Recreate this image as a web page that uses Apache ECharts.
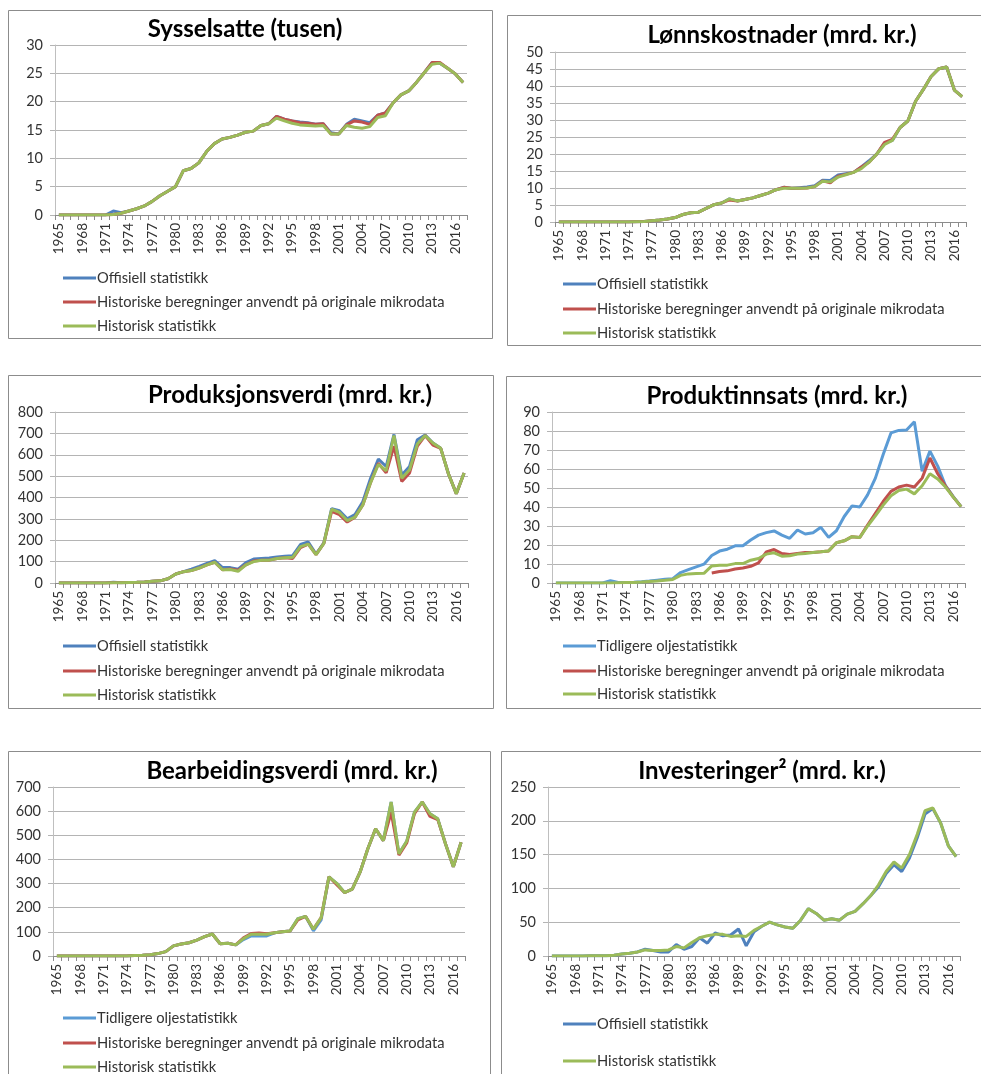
<!DOCTYPE html>
<html>
<head>
<meta charset="utf-8">
<script src="https://cdn.jsdelivr.net/npm/echarts@6/dist/echarts.min.js"></script>
<style>
  html, body { margin: 0; padding: 0; background: #fff; }
  #main { width: 981px; height: 1074px; }
</style>
</head>
<body>
<div id="main"></div>
<script>
// årstall 1965-2017
const years = ['1965','1966','1967','1968','1969','1970','1971','1972','1973','1974',
  '1975','1976','1977','1978','1979','1980','1981','1982','1983','1984',
  '1985','1986','1987','1988','1989','1990','1991','1992','1993','1994',
  '1995','1996','1997','1998','1999','2000','2001','2002','2003','2004',
  '2005','2006','2007','2008','2009','2010','2011','2012','2013','2014',
  '2015','2016','2017'];

// Sysselsatte (tusen)
const sysOffisiell = [0,0,0,0,0,0,0,0.7,0.4,0.7,1.1,1.6,2.4,3.4,4.2,5.0,7.8,8.2,9.2,11.2,
  12.6,13.4,13.7,14.1,14.6,14.8,15.8,16.1,17.4,16.9,16.6,16.4,16.3,16.0,16.1,14.5,14.3,16.0,16.9,16.6,
  16.3,17.6,18.0,19.8,21.2,21.9,23.4,25.1,26.9,26.8,25.9,24.9,23.4];
const sysBeregnet = [0,0,0,0,0,0,0,0.1,0.3,0.7,1.1,1.6,2.4,3.4,4.2,5.0,7.8,8.2,9.2,11.2,
  12.6,13.4,13.7,14.1,14.6,14.8,15.8,16.1,17.4,16.9,16.6,16.3,16.2,16.0,16.1,14.3,14.3,15.9,16.6,16.4,
  16.0,17.6,18.0,19.8,21.2,21.9,23.4,25.1,26.9,26.9,25.9,24.9,23.4];
const sysHistorisk = [0,0,0,0,0,0,0,0.1,0.3,0.7,1.1,1.6,2.4,3.4,4.2,5.0,7.8,8.2,9.2,11.2,
  12.6,13.4,13.7,14.1,14.6,14.8,15.8,16.1,17.1,16.6,16.2,15.9,15.8,15.7,15.8,14.3,14.3,15.8,15.5,15.3,
  15.6,17.2,17.5,19.8,21.2,21.9,23.4,25.1,26.6,26.8,25.9,24.9,23.4];

// Lønnskostnader (mrd. kr.)
const lonnOffisiell = [0,0,0,0,0,0,0,0,0,0,0.1,0.15,0.4,0.6,0.9,1.3,2.2,2.7,2.9,4.0,
  5.1,5.6,6.8,6.2,6.6,7.1,7.8,8.5,9.5,10.2,9.9,10.1,10.3,10.7,12.3,12.2,13.8,14.2,14.6,16.2,
  18.0,20.0,23.2,24.0,27.8,29.7,35.5,39.0,42.8,45.1,45.6,38.8,36.9];
const lonnBeregnet = [0,0,0,0,0,0,0,0,0,0,0.1,0.15,0.4,0.6,0.9,1.3,2.2,2.7,2.9,4.0,
  5.1,5.6,6.5,6.2,6.6,7.1,7.8,8.5,9.5,10.2,9.9,9.9,10.0,10.4,12.1,11.5,13.5,14.0,14.6,16.2,
  17.6,20.0,23.4,24.3,27.8,29.7,35.5,39.0,42.8,45.1,45.6,38.8,36.9];
const lonnHistorisk = [0,0,0,0,0,0,0,0,0,0,0.1,0.15,0.4,0.6,0.9,1.3,2.2,2.7,2.9,4.0,
  5.1,5.6,6.8,6.2,6.6,7.1,7.8,8.5,9.5,9.9,9.9,9.9,10.0,10.4,12.0,11.8,13.2,13.9,14.6,15.7,
  17.6,20.0,22.8,24.0,27.8,29.7,35.5,39.0,42.8,45.1,45.6,38.8,36.9];

// Produksjonsverdi (mrd. kr.)
const prodOffisiell = [0,0,0,0,0,0,0,3,1,2,3,5,8,10,20,42,53,65,78,92,
  105,72,72,65,95,112,115,117,122,125,128,180,192,135,188,348,338,300,320,380,
  490,580,545,695,505,545,670,692,655,630,510,418,515];
const prodBeregnet = [0,0,0,0,0,0,0,1,1,2,3,5,8,10,20,42,53,58,70,85,
  97,62,65,60,85,103,106,107,115,118,115,165,182,133,185,335,320,285,308,365,
  470,560,515,640,475,515,640,690,645,630,510,418,515];
const prodHistorisk = [0,0,0,0,0,0,0,1,1,2,3,5,8,10,20,42,53,58,70,85,
  97,62,63,55,85,100,106,107,115,118,120,170,182,133,185,345,330,292,308,365,
  470,555,525,690,490,530,650,690,655,630,510,418,515];

// Produktinnsats (mrd. kr.)
const innsTidligere = [0,0,0,0,0,0,0,1.2,0.3,0.3,0.4,0.6,1.0,1.5,2.0,2.3,5.5,7.0,8.5,9.9,
  14.5,16.8,17.8,19.6,19.6,22.6,25.2,26.5,27.4,25.2,23.5,27.9,25.8,26.5,29.3,24.0,27.5,35.0,40.6,40.0,
  46.4,55.2,67.6,79.0,80.3,80.5,84.9,58.8,69.4,61.5,51.2,45.5,40.2];
const innsBeregnet = [null,null,null,null,null,null,null,null,null,null,null,null,null,null,null,null,null,null,null,null,
  5.3,6.0,6.4,7.4,7.9,8.8,10.6,16.4,17.6,15.5,15.0,15.5,16.0,16.0,16.4,16.9,21.2,22.2,24.4,24.0,
  30.5,36.7,42.9,48.2,50.5,51.5,50.5,55.2,65.8,57.5,51.0,45.2,40.2];
const innsHistorisk = [0,0,0,0,0,0,0,0,0.1,0.2,0.3,0.5,0.8,1.0,1.4,1.9,4.0,4.8,5.0,5.1,
  9.0,9.4,9.4,10.2,10.2,12.0,12.9,15.2,15.9,14.1,14.3,15.2,15.5,16.0,16.4,16.9,21.2,22.2,24.4,24.0,
  30.0,35.3,41.0,45.9,48.7,49.4,46.9,51.2,57.5,54.7,50.5,45.2,40.2];

// Bearbeidingsverdi (mrd. kr.)
const bearbTidligere = [0,0,0,0,0,0,0,0,0,0.5,2,3,5,10,18,42,50,55,66,80,
  91,51,53,46,68,83,83,83,96,100,104,155,164,104,150,328,301,263,277,347,
  444,527,478,638,423,475,596,638,589,568,464,370,471];
const bearbBeregnet = [0,0,0,0,0,0,0,0,0,0.5,2,3,5,10,18,42,50,55,66,80,
  91,51,53,46,75,93,95,92,96,100,104,150,164,111,159,328,295,263,277,347,
  444,527,478,595,418,468,590,638,578,565,464,370,471];
const bearbHistorisk = [0,0,0,0,0,0,0,0,0,0.5,2,3,5,10,18,42,50,55,66,80,
  91,51,53,46,72,90,90,90,96,100,104,155,164,111,159,328,301,263,277,347,
  444,527,478,638,423,475,596,638,589,568,464,370,471];

// Investeringer (mrd. kr.)
const invOffisiell = [0,0,0,0,0,0.5,0.5,0.5,1,3,4,6,10,8,6,6,17,10,14,27,
  19,34,30,31,40,15,36,44,50,46,43,41,53,70,63,53,55,53,62,66,
  77,89,102,122,135,125,145,175,210,218,197,163,147];
const invHistorisk = [0,0,0,0,0,0.5,0.5,0.5,1,3,4,6,9,8,8,9,14,12,20,27,
  30,32,32,29,30,29,38,44,50,46,43,41,53,70,63,53,55,53,62,66,
  77,89,105,125,139,130,150,180,215,219,197,163,147];

const BLUE = '#4f81bd', LBLUE = '#5b9bd5', RED = '#c0504d', GREEN = '#9bbb59';
const FONT = 'Lato, "Liberation Sans", sans-serif';
const OFF = 'Offisiell statistikk';
const TID = 'Tidligere oljestatistikk';
const BER = 'Historiske beregninger anvendt på originale mikrodata';
const HIS = 'Historisk statistikk';

const panels = [
  { title: 'Sysselsatte (tusen)', box: [8, 10, 484, 328], titleAt: [245, 29],
    grid: { left: 55, top: 45, width: 412, height: 170 }, max: 30, interval: 5,
    legendX: 63, legendY: [278, 302, 326],
    lines: [[OFF, sysOffisiell, BLUE], [BER, sysBeregnet, RED], [HIS, sysHistorisk, GREEN]] },
  { title: 'Lønnskostnader (mrd. kr.)', box: [507, 15, 490, 330], titleAt: [782, 35],
    grid: { left: 555, top: 52, width: 411, height: 170 }, max: 50, interval: 5,
    legendX: 563, legendY: [284, 309, 333],
    lines: [[OFF, lonnOffisiell, BLUE], [BER, lonnBeregnet, RED], [HIS, lonnHistorisk, GREEN]] },
  { title: 'Produksjonsverdi (mrd. kr.)', box: [8, 375, 485, 333], titleAt: [290, 395],
    grid: { left: 55, top: 412, width: 413, height: 171 }, max: 800, interval: 100,
    legendX: 63, legendY: [646, 671, 695],
    lines: [[OFF, prodOffisiell, BLUE], [BER, prodBeregnet, RED], [HIS, prodHistorisk, GREEN]] },
  { title: 'Produktinnsats (mrd. kr.)', box: [506, 376, 490, 332], titleAt: [777, 396],
    grid: { left: 552, top: 412, width: 413, height: 171 }, max: 90, interval: 10,
    legendX: 563, legendY: [646, 671, 694],
    lines: [[TID, innsTidligere, LBLUE], [BER, innsBeregnet, RED], [HIS, innsHistorisk, GREEN]] },
  { title: 'Bearbeidingsverdi (mrd. kr.)', box: [8, 751, 482, 340], titleAt: [292, 771],
    grid: { left: 53, top: 787, width: 412, height: 169 }, max: 700, interval: 100,
    legendX: 63, legendY: [1018, 1043, 1067],
    lines: [[TID, bearbTidligere, LBLUE], [BER, bearbBeregnet, RED], [HIS, bearbHistorisk, GREEN]] },
  { title: 'Investeringer² (mrd. kr.)', box: [501, 751, 495, 340], titleAt: [762, 771],
    grid: { left: 548, top: 787, width: 412, height: 169 }, max: 250, interval: 50,
    legendX: 563, legendY: [1024, 1061],
    lines: [[OFF, invOffisiell, BLUE], [HIS, invHistorisk, GREEN]] }
];

const chart = echarts.init(document.getElementById('main'));

const grid = [], xAxis = [], yAxis = [], series = [], graphic = [];
panels.forEach((p, i) => {
  grid.push(p.grid);
  xAxis.push({
    type: 'category', gridIndex: i, data: years, boundaryGap: true,
    axisLine: { lineStyle: { color: '#8c8c8c', width: 1 } },
    axisTick: { show: true, interval: 0, length: 5, lineStyle: { color: '#8c8c8c' } },
    axisLabel: { interval: 2, rotate: 90, fontSize: 13.5, color: '#333', margin: 8, fontFamily: FONT },
    splitLine: { show: false }
  });
  yAxis.push({
    type: 'value', gridIndex: i, min: 0, max: p.max, interval: p.interval,
    axisLine: { show: true, lineStyle: { color: '#bfbfbf' } },
    axisTick: { show: true, length: 5, lineStyle: { color: '#b4b4b4' } },
    axisLabel: { fontSize: 14.5, color: '#333', margin: 12, fontFamily: FONT },
    splitLine: { lineStyle: { color: '#b4b4b4', width: 1 } }
  });
  p.lines.forEach(([name, values, color], k) => {
    series.push({
      name, type: 'line', xAxisIndex: i, yAxisIndex: i, data: values,
      symbol: 'none', showSymbol: false, connectNulls: false,
      lineStyle: { width: 3, color }, itemStyle: { color },
      emphasis: { disabled: true }
    });
    // forklaring (legend) tegnet som strek + tekst
    const y = p.legendY[k];
    graphic.push({
      type: 'line', silent: true,
      shape: { x1: p.legendX, y1: y, x2: p.legendX + 33, y2: y },
      style: { stroke: color, lineWidth: 3 }
    });
    graphic.push({
      type: 'text', silent: true, x: p.legendX + 34, y: y,
      style: { text: name, fill: '#333', font: '14.7px ' + FONT, align: 'left', verticalAlign: 'middle' }
    });
  });
  graphic.push({
    type: 'rect', silent: true, z: -1,
    shape: { x: p.box[0] + 0.5, y: p.box[1] + 0.5, width: p.box[2], height: p.box[3] },
    style: { fill: 'none', stroke: '#8c8c8c', lineWidth: 1 }
  });
  graphic.push({
    type: 'text', silent: true, x: p.titleAt[0], y: p.titleAt[1],
    style: { text: p.title, fill: '#000', font: 'bold 24px ' + FONT, align: 'center', verticalAlign: 'middle' }
  });
});

chart.setOption({
  animation: false,
  backgroundColor: '#fff',
  grid, xAxis, yAxis, series, graphic
});
</script>
</body>
</html>
